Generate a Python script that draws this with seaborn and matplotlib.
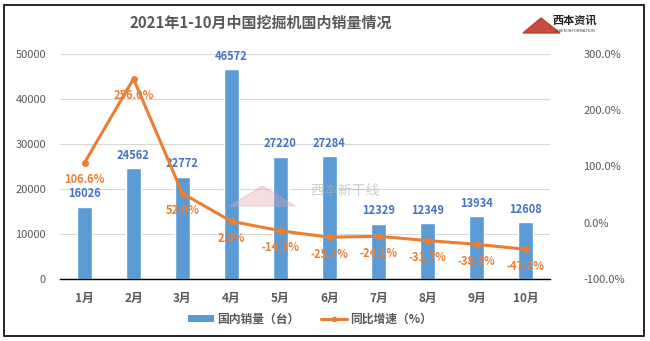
import matplotlib
matplotlib.use("Agg")
import matplotlib.pyplot as plt
import seaborn as sns
import pandas as pd
import numpy as np
from matplotlib.patches import Rectangle
from matplotlib.lines import Line2D
from matplotlib.patches import Patch

months = ["1月", "2月", "3月", "4月", "5月", "6月", "7月", "8月", "9月", "10月"]
sales = [16026, 24562, 22772, 46572, 27220, 27284, 12329, 12349, 13934, 12608]
growth = [106.6, 256.0, 52.0, 2.5, -14.3, -25.7, -24.1, -31.7, -38.3, -47.2]
bar_label = "国内销量（台）"
line_label = "同比增速（%）"
title = "2021年1-10月中国挖掘机国内销量情况"

sns.set_theme(style="white")
plt.rcParams["font.family"] = ["Noto Sans CJK SC", "DejaVu Sans"]

BLUE = "#5B9BD5"
ORANGE = "#ED7D31"
LBLUE = "#4472C4"
GRAY = "#595959"

df = pd.DataFrame({"month": months, "sales": sales, "growth": growth})

fig = plt.figure(figsize=(6.5, 3.41), dpi=100)
fig.patch.set_facecolor("white")
ax = fig.add_axes([60/650, 1-279/341, (550-60)/650, (279-54)/341])

sns.barplot(data=df, x="month", y="sales", color=BLUE, width=0.31, ax=ax, saturation=1)
ax.set_ylim(0, 50000)
ax.set_yticks(range(0, 50001, 10000))
ax.yaxis.grid(True, color="#D9D9D9", linewidth=0.8)
ax.set_axisbelow(True)
for s in ["top", "right", "left"]:
    ax.spines[s].set_visible(False)
ax.spines["bottom"].set_color("#000000")
ax.spines["bottom"].set_linewidth(1.0)
ax.set_xlabel("")
ax.set_ylabel("")
ax.tick_params(axis="y", colors=GRAY, labelsize=8, length=0, pad=10)
ax.tick_params(axis="x", colors=GRAY, labelsize=8.5, length=0, pad=9)
for lab in ax.get_xticklabels():
    lab.set_fontweight("bold")
ax.set_xlim(-0.5, len(months) - 0.5)

for i, v in enumerate(sales):
    ax.annotate(str(v), (i, v), xytext=(0, 13), textcoords="offset pixels",
                ha="center", va="center", color=LBLUE, fontsize=8, fontweight="bold")

ax2 = ax.twinx()
sns.lineplot(data=df, x="month", y="growth", color=ORANGE, linewidth=2.2, marker="o",
             markersize=5, markeredgewidth=0, ax=ax2, sort=False)
ax2.set_ylim(-100, 300)
ax2.set_yticks([-100, 0, 100, 200, 300])
ax2.set_yticklabels([f"{t:.1f}%" for t in [-100, 0, 100, 200, 300]])
ax2.tick_params(axis="y", colors=GRAY, labelsize=8, length=0, pad=24)
for s in ["top", "right", "left", "bottom"]:
    ax2.spines[s].set_visible(False)
ax2.set_ylabel("")
ax2.set_xlabel("")
ax2.grid(False)
ax2.set_xlim(-0.5, len(months) - 0.5)

for i, v in enumerate(growth):
    ax2.annotate(f"{v:.1f}%", (i, v), xytext=(0, -17), textcoords="offset pixels",
                 ha="center", va="center", color=ORANGE, fontsize=8, fontweight="bold")

# title
fig.text(261/650, 1-23/341, title, ha="center", va="center", fontsize=10.8,
         fontweight="bold", color=GRAY)

# logo (simplified)
fig.text(575/650, 1-20/341, "西本资讯", ha="center", va="center", fontsize=8,
         fontweight="bold", color="#222222", fontstyle="italic")
fig.text(575/650, 1-31/341, "XIBEN INFORMATION", ha="center", va="center", fontsize=3,
         color="#444444")
fig.patches.append(plt.Polygon([[523/650, 1-33/341], [541/650, 1-18/341], [560/650, 1-33/341]],
                               closed=True, transform=fig.transFigure, color="#C0392B", alpha=0.9))

# watermark
fig.text(345/650, 1-191/341, "西本新干线", ha="center", va="center", fontsize=10,
         color="#B0B0B0", alpha=0.6, fontstyle="italic")
fig.patches.append(plt.Polygon([[230/650, 1-206/341], [262/650, 1-186/341], [295/650, 1-206/341]],
                               closed=True, transform=fig.transFigure, color="#E8A0A8", alpha=0.35))

# legend
handles = [Patch(facecolor=BLUE, edgecolor="none"),
           Line2D([0], [0], color=ORANGE, linewidth=2.2, marker="o", markersize=4, markeredgewidth=0)]
leg = fig.legend(handles, [bar_label, line_label], loc="center", bbox_to_anchor=(310/650, 1-319/341),
                 ncol=2, frameon=False, fontsize=8.5, handlelength=2.2, handleheight=0.6,
                 columnspacing=1.8, handletextpad=0.3)
for t in leg.get_texts():
    t.set_color(GRAY)
    t.set_fontweight("bold")

# outer frame
fig.patches.append(Rectangle((4/650, 5/341), 640/650, 331/341, transform=fig.transFigure,
                             fill=False, edgecolor="black", linewidth=1.2))

fig.savefig("out.png", dpi=100)
